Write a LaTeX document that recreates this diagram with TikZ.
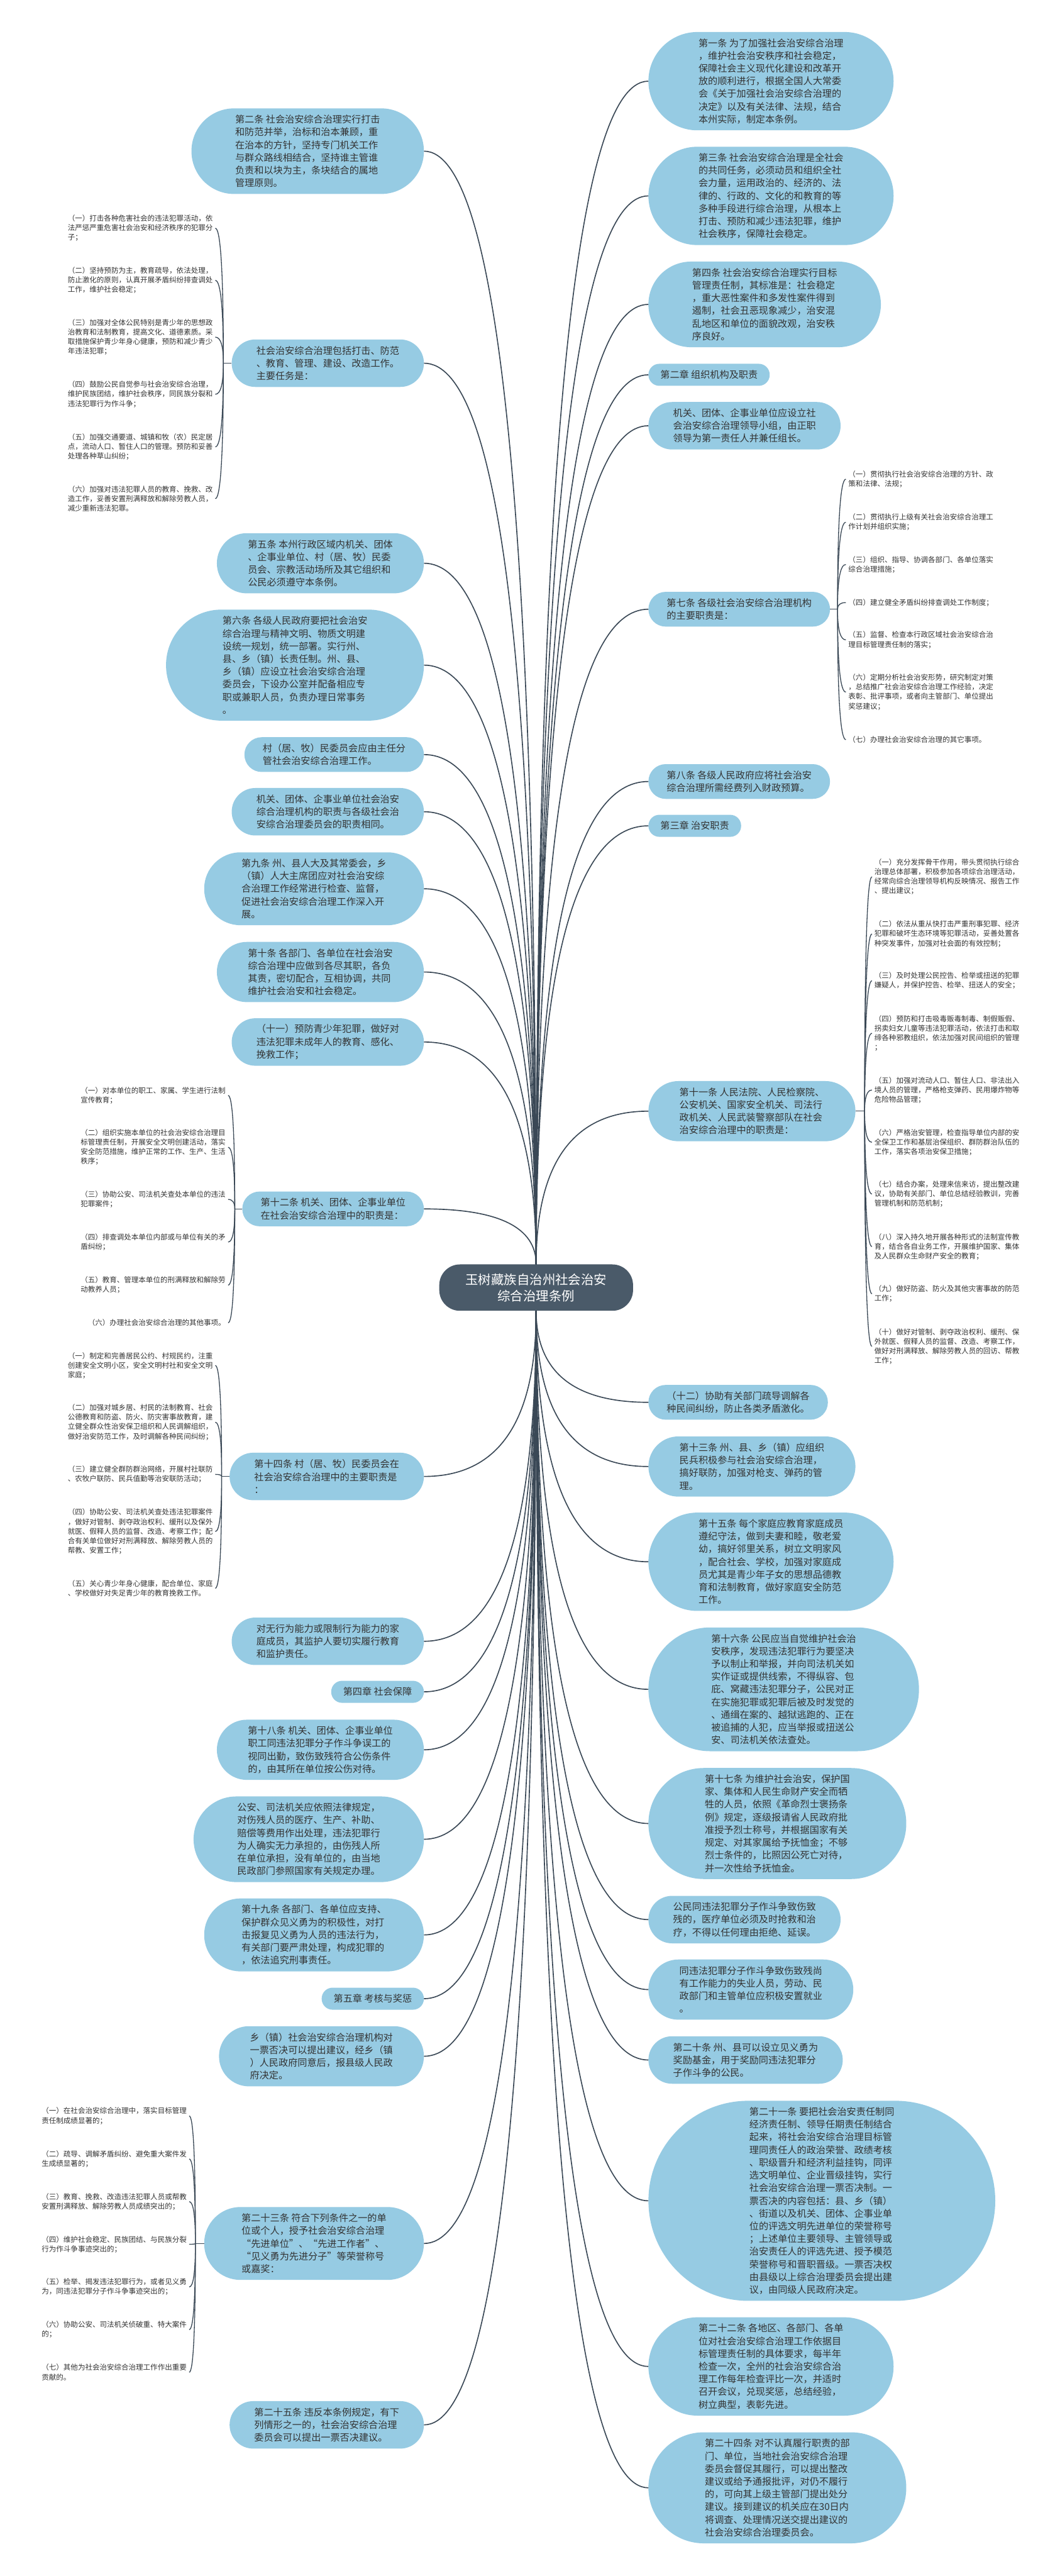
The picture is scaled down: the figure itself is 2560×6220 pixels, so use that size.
\documentclass[tikz,border=0pt]{standalone}
\usepackage{fontspec}
\setmainfont{Noto Sans CJK SC}
\usepackage{tikz}
\usetikzlibrary{calc,positioning}

\definecolor{topicblue}{RGB}{150,203,227}
\definecolor{rootslate}{RGB}{74,90,105}
\definecolor{linkslate}{RGB}{58,72,86}
\definecolor{inkgray}{RGB}{51,51,51}

\newcommand{\rootfont}{\fontsize{31}{39.5}\selectfont}
\newcommand{\topicfont}{\fontsize{23}{30.7}\selectfont}
\newcommand{\leaffont}{\fontsize{17.5}{23}\selectfont}

\begin{document}
\begin{tikzpicture}[
  x=1pt, y=-1pt,
  font=\topicfont,
  root/.style={
    draw=none, fill=rootslate, text=white,
    rounded corners=50pt,
    align=center, font=\rootfont,
    minimum width=468pt, minimum height=112pt
  },
  % pill box, argument = number of text lines
  topic/.style={
    rectangle, fill=topicblue, text=inkgray,
    align=left, font=\topicfont,
    minimum height=22.5pt+30.7pt*#1,
    rounded corners=11pt+15.35pt*#1,
    inner xsep=13.5pt+15.35pt*#1, inner ysep=0pt
  },
  leaf/.style={
    align=left, text=inkgray, font=\leaffont,
    inner xsep=6pt, inner ysep=2pt
  },
  % curve: leaves its start vertically, meets its end horizontally
  branch/.style={to path={.. controls ($(\tikztostart)!0.6667!(\tikztostart|-\tikztotarget)$) and ($(\tikztotarget)!0.6667!(\tikztostart|-\tikztotarget)$) .. (\tikztotarget)}},
  link/.style={draw=linkslate, line width=2.5pt},
  twig/.style={draw=linkslate, line width=2pt}
]
\fill[white] (0,0) rectangle (2560,6220);
\useasboundingbox (0,0) rectangle (2560,6220);

% Root Node
\node[root] (root) at (1295,3109) {玉树藏族自治州社会治安\\综合治理条例};

% Level 1 Branches (right)
\node[topic=7, anchor=west] (a1) at (1566,196) {第一条 为了加强社会治安综合治理\\，维护社会治安秩序和社会稳定，\\保障社会主义现代化建设和改革开\\放的顺利进行，根据全国人大常委\\会《关于加强社会治安综合治理的\\决定》以及有关法律、法规，结合\\本州实际，制定本条例。};
\node[topic=7, anchor=west] (a3) at (1566,473) {第三条 社会治安综合治理是全社会\\的共同任务，必须动员和组织全社\\会力量，运用政治的、经济的、法\\律的、行政的、文化的和教育的等\\多种手段进行综合治理，从根本上\\打击、预防和减少违法犯罪，维护\\社会秩序，保障社会稳定。};
\node[topic=6, anchor=west] (a4) at (1566,735) {第四条 社会治安综合治理实行目标\\管理责任制，其标准是：社会稳定\\，重大恶性案件和多发性案件得到\\遏制，社会丑恶现象减少，治安混\\乱地区和单位的面貌改观，治安秩\\序良好。};
\node[topic=1, anchor=west] (ch2) at (1566,905) {第二章 组织机构及职责};
\node[topic=3, anchor=west] (lead) at (1566,1028) {机关、团体、企事业单位应设立社\\会治安综合治理领导小组，由正职\\领导为第一责任人并兼任组长。};
\node[topic=2, anchor=west] (a7) at (1566,1471) {第七条 各级社会治安综合治理机构\\的主要职责是：};
\node[topic=2, anchor=west] (a8) at (1566,1887) {第八条 各级人民政府应将社会治安\\综合治理所需经费列入财政预算。};
\node[topic=1, anchor=west] (ch3) at (1566,1994) {第三章 治安职责};
\node[topic=4, anchor=west] (a11) at (1566,2683) {第十一条 人民法院、人民检察院、\\公安机关、国家安全机关、司法行\\政机关、人民武装警察部队在社会\\治安综合治理中的职责是：};
\node[topic=2, anchor=west] (i12) at (1566,3386) {（十二）协助有关部门疏导调解各\\种民间纠纷，防止各类矛盾激化。};
\node[topic=4, anchor=west] (a13) at (1566,3541) {第十三条 州、县、乡（镇）应组织\\民兵积极参与社会治安综合治理，\\搞好联防，加强对枪支、弹药的管\\理。};
\node[topic=7, anchor=west] (a15) at (1566,3771) {第十五条 每个家庭应教育家庭成员\\遵纪守法，做到夫妻和睦，敬老爱\\幼，搞好邻里关系，树立文明家风\\，配合社会、学校，加强对家庭成\\员尤其是青少年子女的思想品德教\\育和法制教育，做好家庭安全防范\\工作。};
\node[topic=9, anchor=west] (a16) at (1566,4079) {第十六条 公民应当自觉维护社会治\\安秩序，发现违法犯罪行为要坚决\\予以制止和举报，并向司法机关如\\实作证或提供线索，不得纵容、包\\庇、窝藏违法犯罪分子，公民对正\\在实施犯罪或犯罪后被及时发觉的\\、通缉在案的、越狱逃跑的、正在\\被追捕的人犯，应当举报或扭送公\\安、司法机关依法查处。};
\node[topic=8, anchor=west] (a17) at (1566,4403) {第十七条 为维护社会治安，保护国\\家、集体和人民生命财产安全而牺\\牲的人员，依照《革命烈士褒扬条\\例》规定，逐级报请省人民政府批\\准授予烈士称号，并根据国家有关\\规定、对其家属给予抚恤金；不够\\烈士条件的，比照因公死亡对待，\\并一次性给予抚恤金。};
\node[topic=3, anchor=west] (cure) at (1566,4635) {公民同违法犯罪分子作斗争致伤致\\残的，医疗单位必须及时抢救和治\\疗，不得以任何理由拒绝、延误。};
\node[topic=4, anchor=west] (job) at (1566,4804) {同违法犯罪分子作斗争致伤致残尚\\有工作能力的失业人员，劳动、民\\政部门和主管单位应积极安置就业\\。};
\node[topic=3, anchor=west] (a20) at (1566,4974) {第二十条 州、县可以设立见义勇为\\奖励基金，用于奖励同违法犯罪分\\子作斗争的公民。};
\node[topic=15, anchor=west] (a21) at (1566,5314) {第二十一条 要把社会治安责任制同\\经济责任制、领导任期责任制结合\\起来，将社会治安综合治理目标管\\理同责任人的政治荣誉、政绩考核\\、职级晋升和经济利益挂钩，同评\\选文明单位、企业晋级挂钩，实行\\社会治安综合治理一票否决制。一\\票否决的内容包括：县、乡（镇）\\、街道以及机关、团体、企事业单\\位的评选文明先进单位的荣誉称号\\；上述单位主要领导、主管领导或\\治安责任人的评选先进、授予模范\\荣誉称号和晋职晋级。一票否决权\\由县级以上综合治理委员会提出建\\议，由同级人民政府决定。};
\node[topic=7, anchor=west] (a22) at (1566,5714) {第二十二条 各地区、各部门、各单\\位对社会治安综合治理工作依据目\\标管理责任制的具体要求，每半年\\检查一次，全州的社会治安综合治\\理工作每年检查评比一次，并适时\\召开会议，兑现奖惩，总结经验，\\树立典型，表彰先进。};
\node[topic=8, anchor=west] (a24) at (1566,6007) {第二十四条 对不认真履行职责的部\\门、单位，当地社会治安综合治理\\委员会督促其履行，可以提出整改\\建议或给予通报批评，对仍不履行\\的，可向其上级主管部门提出处分\\建议。接到建议的机关应在30日内\\将调查、处理情况送交提出建议的\\社会治安综合治理委员会。};

% Level 1 Branches (left)
\node[topic=6, anchor=east] (a2) at (1024,365) {第二条 社会治安综合治理实行打击\\和防范并举，治标和治本兼顾，重\\在治本的方针，坚持专门机关工作\\与群众路线相结合，坚持谁主管谁\\负责和以块为主，条块结合的属地\\管理原则。};
\node[topic=3, anchor=east] (task) at (1024,877) {社会治安综合治理包括打击、防范\\、教育、管理、建设、改造工作。\\主要任务是：};
\node[topic=4, anchor=east] (a5) at (1024,1360) {第五条 本州行政区域内机关、团体\\、企事业单位、村（居、牧）民委\\员会、宗教活动场所及其它组织和\\公民必须遵守本条例。};
\node[topic=8, anchor=east] (a6) at (1024,1606) {第六条 各级人民政府要把社会治安\\综合治理与精神文明、物质文明建\\设统一规划，统一部署。实行州、\\县、乡（镇）长责任制。州、县、\\乡（镇）应设立社会治安综合治理\\委员会，下设办公室并配备相应专\\职或兼职人员，负责办理日常事务\\。};
\node[topic=2, anchor=east] (vill) at (1024,1822) {村（居、牧）民委员会应由主任分\\管社会治安综合治理工作。};
\node[topic=3, anchor=east] (unit) at (1024,1960) {机关、团体、企事业单位社会治安\\综合治理机构的职责与各级社会治\\安综合治理委员会的职责相同。};
\node[topic=5, anchor=east] (a9) at (1024,2146) {第九条 州、县人大及其常委会，乡\\（镇）人大主席团应对社会治安综\\合治理工作经常进行检查、监督，\\促进社会治安综合治理工作深入开\\展。};
\node[topic=4, anchor=east] (a10) at (1024,2347) {第十条 各部门、各单位在社会治安\\综合治理中应做到各尽其职，各负\\其责，密切配合，互相协调，共同\\维护社会治安和社会稳定。};
\node[topic=3, anchor=east] (i11) at (1024,2516) {（十一）预防青少年犯罪，做好对\\违法犯罪未成年人的教育、感化、\\挽救工作；};
\node[topic=2, anchor=east] (a12) at (1024,2919) {第十二条 机关、团体、企事业单位\\在社会治安综合治理中的职责是：};
\node[topic=3, anchor=east] (a14) at (1024,3565) {第十四条 村（居、牧）民委员会在\\社会治安综合治理中的主要职责是\\：};
\node[topic=3, anchor=east] (ward) at (1024,3963) {对无行为能力或限制行为能力的家\\庭成员，其监护人要切实履行教育\\和监护责任。};
\node[topic=1, anchor=east] (ch4) at (1024,4085) {第四章 社会保障};
\node[topic=4, anchor=east] (a18) at (1024,4225) {第十八条 机关、团体、企事业单位\\职工同违法犯罪分子作斗争误工的\\视同出勤，致伤致残符合公伤条件\\的，由其所在单位按公伤对待。};
\node[topic=6, anchor=east] (cost) at (1024,4441) {公安、司法机关应依照法律规定，\\对伤残人员的医疗、生产、补助、\\赔偿等费用作出处理，违法犯罪行\\为人确实无力承担的，由伤残人所\\在单位承担，没有单位的，由当地\\民政部门参照国家有关规定办理。};
\node[topic=5, anchor=east] (a19) at (1024,4672) {第十九条 各部门、各单位应支持、\\保护群众见义勇为的积极性，对打\\击报复见义勇为人员的违法行为，\\有关部门要严肃处理，构成犯罪的\\，依法追究刑事责任。};
\node[topic=1, anchor=east] (ch5) at (1024,4826) {第五章 考核与奖惩};
\node[topic=4, anchor=east] (veto) at (1024,4965) {乡（镇）社会治安综合治理机构对\\一票否决可以提出建议，经乡（镇\\）人民政府同意后，报县级人民政\\府决定。};
\node[topic=5, anchor=east] (a23) at (1024,5417) {第二十三条 符合下列条件之一的单\\位或个人，授予社会治安综合治理\\“先进单位”、“先进工作者”、\\“见义勇为先进分子”等荣誉称号\\或嘉奖：};
\node[topic=3, anchor=east] (a25) at (1024,5855) {第二十五条 违反本条例规定，有下\\列情形之一的，社会治安综合治理\\委员会可以提出一票否决建议。};

% Level 2 Branches: tasks
\coordinate (jtask) at ([xshift=-20pt]task.west);
\node[leaf, anchor=east] (tk1) at (520,551) {（一）打击各种危害社会的违法犯罪活动，依\\法严惩严重危害社会治安和经济秩序的犯罪分\\子；};
\node[leaf, anchor=east] (tk2) at (520,677) {（二）坚持预防为主，教育疏导，依法处理，\\防止激化的原则，认真开展矛盾纠纷排查调处\\工作，维护社会稳定；};
\node[leaf, anchor=east] (tk3) at (520,814) {（三）加强对全体公民特别是青少年的思想政\\治教育和法制教育，提高文化、道德素质。采\\取措施保护青少年身心健康，预防和减少青少\\年违法犯罪；};
\node[leaf, anchor=east] (tk4) at (520,952) {（四）鼓励公民自觉参与社会治安综合治理，\\维护民族团结，维护社会秩序，同民族分裂和\\违法犯罪行为作斗争；};
\node[leaf, anchor=east] (tk5) at (520,1079) {（五）加强交通要道、城镇和牧（农）民定居\\点，流动人口、暂住人口的管理。预防和妥善\\处理各种草山纠纷；};
\node[leaf, anchor=east] (tk6) at (520,1204) {（六）加强对违法犯罪人员的教育、挽救、改\\造工作，妥善安置刑满释放和解除劳教人员，\\减少重新违法犯罪。};

% Level 2 Branches: article 7
\coordinate (j7) at ([xshift=18pt]a7.east);
\node[leaf, anchor=west] (dy1) at (2043,1157) {（一）贯彻执行社会治安综合治理的方针、政\\策和法律、法规；};
\node[leaf, anchor=west] (dy2) at (2043,1261) {（二）贯彻执行上级有关社会治安综合治理工\\作计划并组织实施；};
\node[leaf, anchor=west] (dy3) at (2043,1363) {（三）组织、指导、协调各部门、各单位落实\\综合治理措施；};
\node[leaf, anchor=west] (dy4) at (2043,1455) {（四）建立健全矛盾纠纷排查调处工作制度；};
\node[leaf, anchor=west] (dy5) at (2043,1545) {（五）监督、检查本行政区域社会治安综合治\\理目标管理责任制的落实；};
\node[leaf, anchor=west] (dy6) at (2043,1671) {（六）定期分析社会治安形势，研究制定对策\\，总结推广社会治安综合治理工作经验，决定\\表彰、批评事项，或者向主管部门、单位提出\\奖惩建议；};
\node[leaf, anchor=west] (dy7) at (2043,1786) {（七）办理社会治安综合治理的其它事项。};

% Level 2 Branches: article 11
\coordinate (j11) at ([xshift=22pt]a11.east);
\node[leaf, anchor=west] (co1) at (2106,2117) {（一）充分发挥骨干作用，带头贯彻执行综合\\治理总体部署，积极参加各项综合治理活动，\\经常向综合治理领导机构反映情况、报告工作\\、提出建议；};
\node[leaf, anchor=west] (co2) at (2106,2255) {（二）依法从重从快打击严重刑事犯罪、经济\\犯罪和破坏生态环境等犯罪活动，妥善处置各\\种突发事件，加强对社会面的有效控制；};
\node[leaf, anchor=west] (co3) at (2106,2368) {（三）及时处理公民控告、检举或扭送的犯罪\\嫌疑人，并保护控告、检举、扭送人的安全；};
\node[leaf, anchor=west] (co4) at (2106,2495) {（四）预防和打击吸毒贩毒制毒、制假贩假、\\拐卖妇女儿童等违法犯罪活动，依法打击和取\\缔各种邪教组织，依法加强对民间组织的管理\\；};
\node[leaf, anchor=west] (co5) at (2106,2632) {（五）加强对流动人口、暂住人口、非法出入\\境人员的管理，严格枪支弹药、民用爆炸物等\\危险物品管理；};
\node[leaf, anchor=west] (co6) at (2106,2758) {（六）严格治安管理，检查指导单位内部的安\\全保卫工作和基层治保组织、群防群治队伍的\\工作，落实各项治安保卫措施；};
\node[leaf, anchor=west] (co7) at (2106,2883) {（七）结合办案，处理来信来访，提出整改建\\议，协助有关部门、单位总结经验教训，完善\\管理机制和防范机制；};
\node[leaf, anchor=west] (co8) at (2106,3010) {（八）深入持久地开展各种形式的法制宣传教\\育，结合各自业务工作，开展维护国家、集体\\及人民群众生命财产安全的教育；};
\node[leaf, anchor=west] (co9) at (2106,3124) {（九）做好防盗、防火及其他灾害事故的防范\\工作；};
\node[leaf, anchor=west] (co10) at (2106,3251) {（十）做好对管制、剥夺政治权利、缓刑、保\\外就医、假释人员的监督、改造、考察工作，\\做好对刑满释放、解除劳教人员的回访、帮教\\工作；};

% Level 2 Branches: article 12
\coordinate (j12) at ([xshift=-18pt]a12.west);
\node[leaf, anchor=east] (un1) at (551,2645) {（一）对本单位的职工、家属、学生进行法制\\宣传教育；};
\node[leaf, anchor=east] (un2) at (551,2770) {（二）组织实施本单位的社会治安综合治理目\\标管理责任制，开展安全文明创建活动，落实\\安全防范措施，维护正常的工作、生产、生活\\秩序；};
\node[leaf, anchor=east] (un3) at (551,2896) {（三）协助公安、司法机关查处本单位的违法\\犯罪案件；};
\node[leaf, anchor=east] (un4) at (551,2999) {（四）排查调处本单位内部或与单位有关的矛\\盾纠纷；};
\node[leaf, anchor=east] (un5) at (551,3103) {（五）教育、管理本单位的刑满释放和解除劳\\动教养人员；};
\node[leaf, anchor=east] (un6) at (551,3194) {（六）办理社会治安综合治理的其他事项。};

% Level 2 Branches: article 14
\coordinate (j14) at ([xshift=-19pt]a14.west);
\node[leaf, anchor=east] (vi1) at (520,3297) {（一）制定和完善居民公约、村规民约，注重\\创建安全文明小区，安全文明村社和安全文明\\家庭；};
\node[leaf, anchor=east] (vi2) at (520,3434) {（二）加强对城乡居、村民的法制教育、社会\\公德教育和防盗、防火、防灾害事故教育，建\\立健全群众性治安保卫组织和人民调解组织，\\做好治安防范工作，及时调解各种民间纠纷；};
\node[leaf, anchor=east] (vi3) at (520,3560) {（三）建立健全群防群治网络，开展村社联防\\、农牧户联防、民兵值勤等治安联防活动；};
\node[leaf, anchor=east] (vi4) at (520,3698) {（四）协助公安、司法机关查处违法犯罪案件\\，做好对管制、剥夺政治权利、缓刑以及保外\\就医、假释人员的监督、改造、考察工作；配\\合有关单位做好对刑满释放、解除劳教人员的\\帮教、安置工作；};
\node[leaf, anchor=east] (vi5) at (520,3835) {（五）关心青少年身心健康，配合单位、家庭\\、学校做好对失足青少年的教育挽救工作。};

% Level 2 Branches: article 23
\coordinate (j23) at ([xshift=-21pt]a23.west);
\node[leaf, anchor=east] (aw1) at (457,5109) {（一）在社会治安综合治理中，落实目标管理\\责任制成绩显著的；};
\node[leaf, anchor=east] (aw2) at (457,5213) {（二）疏导、调解矛盾纠纷、避免重大案件发\\生成绩显著的；};
\node[leaf, anchor=east] (aw3) at (457,5316) {（三）教育、挽救、改造违法犯罪人员或帮教\\安置刑满释放、解除劳教人员成绩突出的；};
\node[leaf, anchor=east] (aw4) at (457,5419) {（四）维护社会稳定、民族团结、与民族分裂\\行为作斗争事迹突出的；};
\node[leaf, anchor=east] (aw5) at (457,5522) {（五）检举、揭发违法犯罪行为，或者见义勇\\为，同违法犯罪分子作斗争事迹突出的；};
\node[leaf, anchor=east] (aw6) at (457,5625) {（六）协助公安、司法机关侦破重、特大案件\\的；};
\node[leaf, anchor=east] (aw7) at (457,5728) {（七）其他为社会治安综合治理工作作出重要\\贡献的。};

% Edges: root to right branches
\draw[link] (root.north) to[branch] (a1.west);
\draw[link] (root.north) to[branch] (a3.west);
\draw[link] (root.north) to[branch] (a4.west);
\draw[link] (root.north) to[branch] (ch2.west);
\draw[link] (root.north) to[branch] (lead.west);
\draw[link] (root.north) to[branch] (a7.west);
\draw[link] (root.north) to[branch] (a8.west);
\draw[link] (root.north) to[branch] (ch3.west);
\draw[link] (root.north) to[branch] (a11.west);
\draw[link] (root.south) to[branch] (i12.west);
\draw[link] (root.south) to[branch] (a13.west);
\draw[link] (root.south) to[branch] (a15.west);
\draw[link] (root.south) to[branch] (a16.west);
\draw[link] (root.south) to[branch] (a17.west);
\draw[link] (root.south) to[branch] (cure.west);
\draw[link] (root.south) to[branch] (job.west);
\draw[link] (root.south) to[branch] (a20.west);
\draw[link] (root.south) to[branch] (a21.west);
\draw[link] (root.south) to[branch] (a22.west);
\draw[link] (root.south) to[branch] (a24.west);

% Edges: root to left branches
\draw[link] (root.north) to[branch] (a2.east);
\draw[link] (root.north) to[branch] (task.east);
\draw[link] (root.north) to[branch] (a5.east);
\draw[link] (root.north) to[branch] (a6.east);
\draw[link] (root.north) to[branch] (vill.east);
\draw[link] (root.north) to[branch] (unit.east);
\draw[link] (root.north) to[branch] (a9.east);
\draw[link] (root.north) to[branch] (a10.east);
\draw[link] (root.north) to[branch] (i11.east);
\draw[link] (root.north) to[branch] (a12.east);
\draw[link] (root.south) to[branch] (a14.east);
\draw[link] (root.south) to[branch] (ward.east);
\draw[link] (root.south) to[branch] (ch4.east);
\draw[link] (root.south) to[branch] (a18.east);
\draw[link] (root.south) to[branch] (cost.east);
\draw[link] (root.south) to[branch] (a19.east);
\draw[link] (root.south) to[branch] (ch5.east);
\draw[link] (root.south) to[branch] (veto.east);
\draw[link] (root.south) to[branch] (a23.east);
\draw[link] (root.south) to[branch] (a25.east);

% Edges: brackets to leaves
\draw[twig] (task.west) -- (jtask);
\draw[twig] (jtask) to[branch] (tk1.east);
\draw[twig] (jtask) to[branch] (tk2.east);
\draw[twig] (jtask) to[branch] (tk3.east);
\draw[twig] (jtask) to[branch] (tk4.east);
\draw[twig] (jtask) to[branch] (tk5.east);
\draw[twig] (jtask) to[branch] (tk6.east);

\draw[twig] (a7.east) -- (j7);
\draw[twig] (j7) to[branch] (dy1.west);
\draw[twig] (j7) to[branch] (dy2.west);
\draw[twig] (j7) to[branch] (dy3.west);
\draw[twig] (j7) to[branch] (dy4.west);
\draw[twig] (j7) to[branch] (dy5.west);
\draw[twig] (j7) to[branch] (dy6.west);
\draw[twig] (j7) to[branch] (dy7.west);

\draw[twig] (a11.east) -- (j11);
\draw[twig] (j11) to[branch] (co1.west);
\draw[twig] (j11) to[branch] (co2.west);
\draw[twig] (j11) to[branch] (co3.west);
\draw[twig] (j11) to[branch] (co4.west);
\draw[twig] (j11) to[branch] (co5.west);
\draw[twig] (j11) to[branch] (co6.west);
\draw[twig] (j11) to[branch] (co7.west);
\draw[twig] (j11) to[branch] (co8.west);
\draw[twig] (j11) to[branch] (co9.west);
\draw[twig] (j11) to[branch] (co10.west);

\draw[twig] (a12.west) -- (j12);
\draw[twig] (j12) to[branch] (un1.east);
\draw[twig] (j12) to[branch] (un2.east);
\draw[twig] (j12) to[branch] (un3.east);
\draw[twig] (j12) to[branch] (un4.east);
\draw[twig] (j12) to[branch] (un5.east);
\draw[twig] (j12) to[branch] (un6.east);

\draw[twig] (a14.west) -- (j14);
\draw[twig] (j14) to[branch] (vi1.east);
\draw[twig] (j14) to[branch] (vi2.east);
\draw[twig] (j14) to[branch] (vi3.east);
\draw[twig] (j14) to[branch] (vi4.east);
\draw[twig] (j14) to[branch] (vi5.east);

\draw[twig] (a23.west) -- (j23);
\draw[twig] (j23) to[branch] (aw1.east);
\draw[twig] (j23) to[branch] (aw2.east);
\draw[twig] (j23) to[branch] (aw3.east);
\draw[twig] (j23) to[branch] (aw4.east);
\draw[twig] (j23) to[branch] (aw5.east);
\draw[twig] (j23) to[branch] (aw6.east);
\draw[twig] (j23) to[branch] (aw7.east);

\end{tikzpicture}
\end{document}
